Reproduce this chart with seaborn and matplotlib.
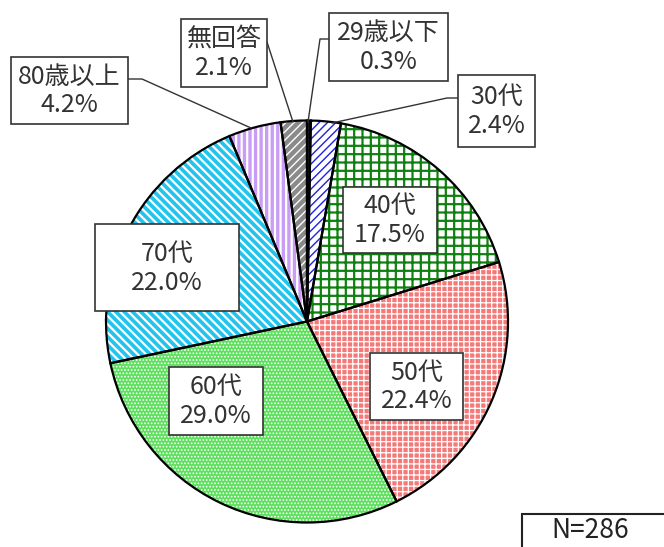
import matplotlib
matplotlib.use("Agg")
import matplotlib.pyplot as plt
import seaborn as sns
from matplotlib.patches import Rectangle

sns.set_theme(style="white")
plt.rcParams['font.family'] = ['Noto Sans CJK JP', 'DejaVu Sans']

# ---- data ----
categories = ["29歳以下", "30代", "40代", "50代", "60代", "70代", "80歳以上", "無回答"]
values = [0.3, 2.4, 17.5, 22.4, 29.0, 22.0, 4.2, 2.1]
pct_labels = ["0.3%", "2.4%", "17.5%", "22.4%", "29.0%", "22.0%", "4.2%", "2.1%"]
n_label = "N=286"

# ---- style ----
face_colors = ["#1a1a1a", "#ffffff", "#ffffff", "#f47a7a", "#5ee05e", "#22c4ee", "#c99cf6", "#8a8a8a"]
hatch_colors = ["#1a1a1a", "#2020e0", "#108010", "#ffffff", "#ffffff", "#ffffff", "#ffffff", "#ffffff"]
hatches = [None, "////", "++", "+++", ".....", "\\\\\\\\", "|||", "////"]
hatch_lw = [1, 1.0, 1.6, 0.9, 0.8, 1.6, 1.6, 1.0]

W, H = 664, 547
fig = plt.figure(figsize=(W / 100, H / 100), dpi=100)
ax = fig.add_axes([0, 0, 1, 1])

cx, cy, R = 307, H - 321.5, 201

# base fill
ax.pie(values, colors=face_colors, startangle=90, counterclock=False,
       center=(cx, cy), radius=R, wedgeprops=dict(linewidth=0))
# hatch overlay
for i in range(len(values)):
    if hatches[i] is None:
        continue
    with plt.rc_context({'hatch.linewidth': hatch_lw[i], 'hatch.color': hatch_colors[i]}):
        wl, _ = ax.pie(values, startangle=90, counterclock=False, center=(cx, cy), radius=R,
                       colors=["none"] * len(values), wedgeprops=dict(linewidth=0))
        for j, w in enumerate(wl):
            if j != i:
                w.remove()
            else:
                w.set_hatch(hatches[i])
                w.set_edgecolor(hatch_colors[i])
                w.set_facecolor("none")
                if hasattr(w, "set_hatch_linewidth"):
                    w.set_hatch_linewidth(hatch_lw[i])
# outlines
ax.pie(values, colors=["none"] * len(values), startangle=90, counterclock=False,
       center=(cx, cy), radius=R, wedgeprops=dict(linewidth=1.6, edgecolor="black", fill=False))

ax.set_xlim(0, W)
ax.set_ylim(0, H)
ax.set_aspect("auto")
ax.axis("off")

# label boxes: (x0, y0, x1, y1) in pixel coords from top
boxes = [(329, 13, 448, 81), (458, 75, 535, 147), (343, 187, 437, 253), (370, 353, 463, 420),
         (169, 367, 263, 435), (95, 224, 239, 311), (11, 57, 128, 124), (181, 19, 267, 87)]
leaders = [
    [(329, 39), (320, 39), (308, 122)],
    [(458, 98), (447, 98), (332, 123)],
    None, None, None, None,
    [(128, 79), (142, 79), (251, 128)],
    [(267, 42), (293, 122)],
]

txt_color = "#333333"
fs = 18
for i, (x0, y0, x1, y1) in enumerate(boxes):
    ax.add_patch(Rectangle((x0, H - y1), x1 - x0, y1 - y0, facecolor="white",
                           edgecolor="#333333", linewidth=1.2, zorder=5))
    mx = (x0 + x1) / 2
    my = (y0 + y1) / 2
    ax.text(mx, H - (my - 14), categories[i], ha="center", va="center",
            fontsize=fs, color=txt_color, zorder=6)
    ax.text(mx, H - (my + 15), pct_labels[i], ha="center", va="center",
            fontsize=fs, color=txt_color, zorder=6)
    if leaders[i] is not None:
        xs = [p[0] for p in leaders[i]]
        ys = [H - p[1] for p in leaders[i]]
        ax.plot(xs, ys, color="#333333", linewidth=1.0, zorder=4)

# N box
ax.add_patch(Rectangle((522, H - 560), 200, 46, facecolor="white",
                       edgecolor="#222222", linewidth=1.5, zorder=5, clip_on=True))
ax.text(590, H - 531, n_label, ha="center", va="center", fontsize=19, color="#222222", zorder=6)

fig.savefig("out.png", dpi=100)
